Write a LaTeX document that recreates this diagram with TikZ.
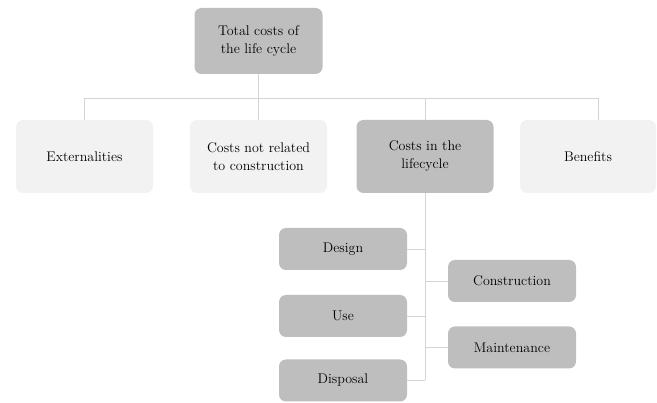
\documentclass[tikz,border=0pt]{standalone}
\usepackage{tikz}
\usetikzlibrary{positioning,calc}
\definecolor{boxDark}{HTML}{BEBEBE}
\definecolor{boxLight}{HTML}{F2F2F2}
\definecolor{linkGrey}{HTML}{D4D4D4}

\begin{document}
\begin{tikzpicture}[x=1pt,y=-1pt,
  every node/.style={font=\fontsize{14}{18}\selectfont,align=center,rounded corners=7pt,inner sep=2pt},
  darkbox/.style={fill=boxDark,minimum width=128pt,minimum height=42pt},
  bigbox/.style={minimum width=137pt,minimum height=73pt},
  link/.style={draw=linkGrey,line width=0.8pt}]
  \useasboundingbox (0,0) rectangle (657,403);
  % top and second row
  \node[darkbox,minimum height=66pt] (total) at (258.5,41) {Total costs of\\the life cycle};
  \node[bigbox,fill=boxLight] (extern) at (84.5,156.5) {Externalities};
  \node[bigbox,fill=boxLight] (notrel) at (258.5,156.5) {Costs not related\\to construction};
  \node[bigbox,fill=boxDark] (lifecyc) at (425,156.5) {Costs in the\\lifecycle};
  \node[bigbox,fill=boxLight,minimum width=136pt] (benef) at (588,156.5) {Benefits};
  % phases
  \node[darkbox] (design) at (343,249) {Design};
  \node[darkbox] (constr) at (512,281) {Construction};
  \node[darkbox] (use) at (343,316) {Use};
  \node[darkbox] (maint) at (512,347.5) {Maintenance};
  \node[darkbox] (disp) at (343,380.5) {Disposal};
  \coordinate (bus) at (0,98);
  \coordinate (benefTop) at ($(benef.north)+(10,0)$);
  \draw[link] (total.south) -- (notrel.north);
  \draw[link] (bus -| extern.north) -- (bus -| benefTop);
  \foreach \n in {extern.north,lifecyc.north,benefTop}
    \draw[link] (bus -| \n) -- (\n);
  \draw[link] (lifecyc.south) -- (disp.east -| lifecyc.south);
  \foreach \n in {design,use,disp}
    \draw[link] (\n.east) -- (\n.east -| lifecyc.south);
  \foreach \n in {constr,maint}
    \draw[link] (\n.west) -- (\n.west -| lifecyc.south);
\end{tikzpicture}
\end{document}
